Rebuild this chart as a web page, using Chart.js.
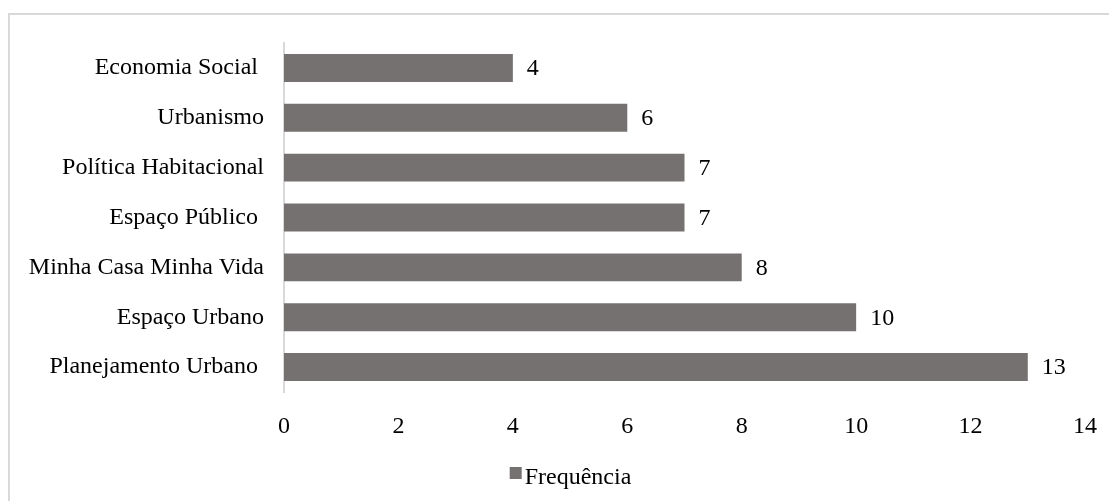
<!DOCTYPE html>
<html>
<head>
<meta charset="utf-8">
<script src="https://cdn.jsdelivr.net/npm/chart.js@4.4.1/dist/chart.umd.min.js"></script>
<style>
  html, body { margin: 0; padding: 0; background: #ffffff; }
  #wrap { position: relative; width: 1109px; height: 501px; }
</style>
</head>
<body>
<div id="wrap"><canvas id="chart" width="1109" height="501"></canvas></div>
<script>
// Keyword frequencies (top to bottom)
const categories = [
  'Economia Social ',
  'Urbanismo',
  'Política Habitacional',
  'Espaço Público ',
  'Minha Casa Minha Vida',
  'Espaço Urbano',
  'Planejamento Urbano '
];
const frequencia = [4, 6, 7, 7, 8, 10, 13];
const seriesName = 'Frequência';
const xTicks = [0, 2, 4, 6, 8, 10, 12, 14];

const FONT = '"Liberation Serif", "Times New Roman", serif';
const BAR = '#767171';
const LINE = '#d9d9d9';

// Light frame along the top and left edges
const framePlugin = {
  id: 'frame',
  beforeDraw(chart) {
    const ctx = chart.ctx;
    ctx.save();
    ctx.strokeStyle = LINE;
    ctx.lineWidth = 2;
    ctx.beginPath();
    ctx.moveTo(9, chart.height);
    ctx.lineTo(9, 14);
    ctx.lineTo(chart.width, 14);
    ctx.stroke();
    ctx.restore();
  }
};

// Value printed at the end of each bar
const valueLabels = {
  id: 'valueLabels',
  afterDatasetsDraw(chart) {
    const ctx = chart.ctx;
    const meta = chart.getDatasetMeta(0);
    const data = chart.data.datasets[0].data;
    ctx.save();
    ctx.font = '24px ' + FONT;
    ctx.fillStyle = '#000000';
    ctx.textAlign = 'left';
    ctx.textBaseline = 'middle';
    meta.data.forEach((bar, i) => {
      ctx.fillText(String(data[i]), bar.x + 14, bar.y + 1);
    });
    ctx.restore();
  }
};

// Legend: square swatch followed by the series name
const legendPlugin = {
  id: 'bottomLegend',
  afterDraw(chart) {
    const ctx = chart.ctx;
    const ds = chart.data.datasets[0];
    ctx.save();
    ctx.font = '24px ' + FONT;
    const tw = ctx.measureText(ds.label).width;
    const box = 12, gap = 3;
    const total = box + gap + tw;
    const cx = chart.width / 2 + 16;
    const left = cx - total / 2;
    ctx.fillStyle = ds.backgroundColor;
    ctx.fillRect(left, 467, box, box);
    ctx.fillStyle = '#000000';
    ctx.textAlign = 'left';
    ctx.textBaseline = 'alphabetic';
    ctx.fillText(ds.label, left + box + gap, 484);
    ctx.restore();
  }
};

new Chart(document.getElementById('chart'), {
  type: 'bar',
  data: {
    labels: categories,
    datasets: [{
      label: seriesName,
      data: frequencia,
      backgroundColor: BAR,
      borderWidth: 0,
      categoryPercentage: 1.0,
      barPercentage: 0.56
    }]
  },
  options: {
    indexAxis: 'y',
    responsive: false,
    animation: false,
    devicePixelRatio: 1,
    layout: { padding: { top: 43, left: 0, right: 24, bottom: 49 } },
    plugins: {
      legend: { display: false },
      tooltip: { enabled: false }
    },
    scales: {
      x: {
        min: 0,
        max: 14,
        afterBuildTicks(scale) { scale.ticks = xTicks.map(v => ({ value: v })); },
        afterFit(scale) {
          scale.height = 60;
          scale.paddingLeft = 0;
          scale.paddingRight = 0;
        },
        grid: { display: false, drawTicks: false },
        border: { display: false },
        ticks: {
          padding: 20,
          color: '#000000',
          font: { family: FONT, size: 24 },
          maxRotation: 0
        }
      },
      y: {
        afterFit(scale) { scale.width = 284; },
        grid: { display: false, drawTicks: false },
        border: { display: true, color: LINE, width: 2 },
        ticks: {
          padding: 20,
          color: '#000000',
          font: { family: FONT, size: 24 },
          autoSkip: false
        }
      }
    }
  },
  plugins: [framePlugin, valueLabels, legendPlugin]
});
</script>
</body>
</html>
